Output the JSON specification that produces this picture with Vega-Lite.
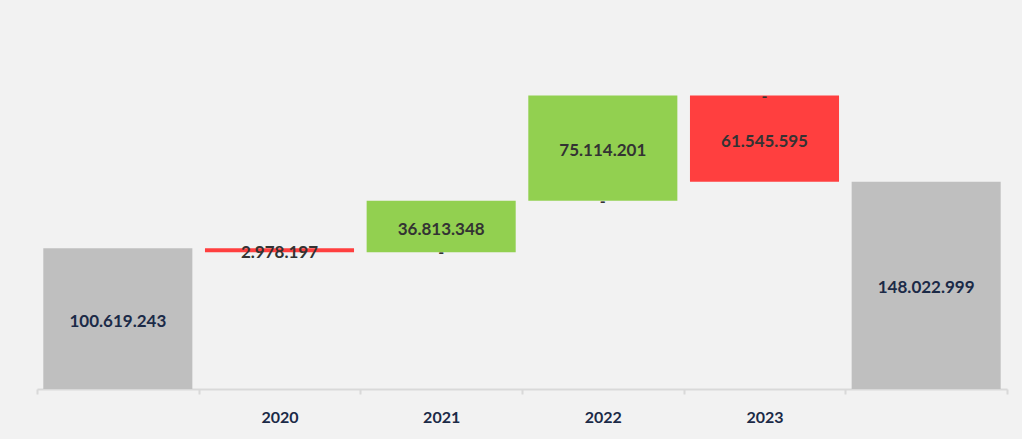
{
  "$schema": "https://vega.github.io/schema/vega-lite/v6.json",
  "width": 970,
  "height": 350,
  "autosize": {"type": "none"},
  "padding": {"left": 37, "top": 39, "right": 15, "bottom": 50},
  "background": "#f2f2f2",
  "config": {
    "view": {"stroke": null},
    "locale": {"number": {"decimal": ",", "thousands": ".", "grouping": [3], "currency": ["", ""]}},
    "font": "Lato"
  },
  "data": {
    "values": [
      {"cat": "Inicio", "start": 0, "end": 100619243, "amount": 100619243, "kind": "total"},
      {"cat": "2020", "start": 100619243, "end": 97641046, "amount": 2978197, "kind": "down"},
      {"cat": "2021", "start": 97641046, "end": 134454394, "amount": 36813348, "kind": "up", "dash": 97641046},
      {"cat": "2022", "start": 134454394, "end": 209568595, "amount": 75114201, "kind": "up", "dash": 134454394},
      {"cat": "2023", "start": 209568595, "end": 148022999, "amount": 61545595, "kind": "down", "dash": 209568595},
      {"cat": "Fin", "start": 0, "end": 148022999, "amount": 148022999, "kind": "total"}
    ]
  },
  "encoding": {
    "x": {
      "field": "cat",
      "type": "nominal",
      "sort": null,
      "scale": {"paddingInner": 0, "paddingOuter": 0},
      "axis": {
        "title": null,
        "labelAngle": 0,
        "labelExpr": "datum.label == 'Inicio' || datum.label == 'Fin' ? '' : datum.label",
        "labelFont": "Lato",
        "labelFontSize": 16,
        "labelFontWeight": "bold",
        "labelColor": "#1b2a47",
        "labelPadding": 15,
        "tickBand": "extent",
        "tickSize": 5,
        "tickColor": "#d9d9d9",
        "tickWidth": 2,
        "domainColor": "#d9d9d9",
        "domainWidth": 2
      }
    }
  },
  "layer": [
    {
      "mark": {"type": "bar", "width": {"band": 0.922}},
      "encoding": {
        "y": {
          "field": "start",
          "type": "quantitative",
          "scale": {"domain": [0, 250000000], "nice": false},
          "axis": null
        },
        "y2": {"field": "end"},
        "color": {
          "field": "kind",
          "type": "nominal",
          "scale": {"domain": ["total", "down", "up"], "range": ["#bfbfbf", "#ff3f3f", "#92d050"]},
          "legend": null
        }
      }
    },
    {
      "mark": {"type": "text", "baseline": "middle", "dy": 3, "fontSize": 17, "fontWeight": "bold", "font": "Lato"},
      "encoding": {
        "y": {"field": "mid", "type": "quantitative"},
        "text": {"field": "amount", "type": "quantitative", "format": ",d"},
        "color": {
          "field": "kind",
          "type": "nominal",
          "scale": {"domain": ["total", "down", "up"], "range": ["#1b2a47", "#333333", "#333333"]},
          "legend": null
        }
      },
      "transform": [{"calculate": "(datum.start + datum.end) / 2", "as": "mid"}]
    },
    {
      "mark": {"type": "text", "baseline": "middle", "dy": 1, "fontSize": 16, "fontWeight": "bold", "font": "Lato", "color": "#333333", "text": "-"},
      "transform": [{"filter": "isValid(datum.dash)"}],
      "encoding": {
        "y": {"field": "dash", "type": "quantitative"}
      }
    }
  ],
  "resolve": {"scale": {"color": "independent"}}
}
